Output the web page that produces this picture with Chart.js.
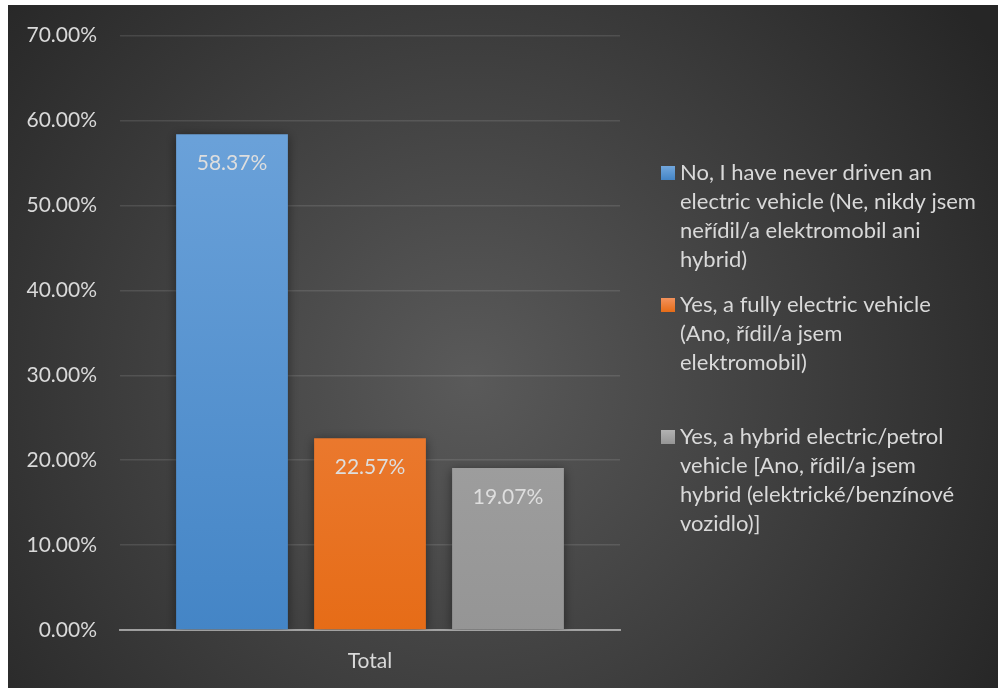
<!DOCTYPE html>
<html>
<head>
<meta charset="utf-8">
<style>
  html, body { margin: 0; padding: 0; background: #fff; }
  #wrap { width: 998px; height: 688px; }
</style>
<script src="https://cdn.jsdelivr.net/npm/chart.js@4"></script>
</head>
<body>
<div id="wrap"><canvas id="evChart" width="998" height="688"></canvas></div>
<script>
const categories = ['Total'];
const seriesNames = [
  ['No, I have never driven an', 'electric vehicle (Ne, nikdy jsem', 'neřídil/a elektromobil ani', 'hybrid)'],
  ['Yes, a fully electric vehicle', '(Ano, řídil/a jsem', 'elektromobil)'],
  ['Yes, a hybrid electric/petrol', 'vehicle [Ano, řídil/a jsem', 'hybrid (elektrické/benzínové', 'vozidlo)]']
];
const neverDriven = [58.37];
const fullyElectric = [22.57];
const hybridPetrol = [19.07];
const yTicks = [0, 10, 20, 30, 40, 50, 60, 70];

const FONT = 'Lato, "Noto Sans", sans-serif';
const TEXT = '#d9d9d9';

// top / bottom colours of each bar fill
const barColors = [
  ['#72a7dd', '#4485c6'],
  ['#f3925c', '#e66c17'],
  ['#b2b2b2', '#959595']
];

function barGradient(i) {
  return (c) => {
    const area = c.chart.chartArea;
    if (!area) return barColors[i][1];
    const el = c.element;
    const top = el && el.y != null ? el.y : area.top;
    const g = c.chart.ctx.createLinearGradient(0, top, 0, area.bottom);
    g.addColorStop(0, barColors[i][0]);
    g.addColorStop(1, barColors[i][1]);
    return g;
  };
}

const backdrop = {
  id: 'backdrop',
  beforeDraw(chart) {
    const { ctx, width, height } = chart;
    ctx.save();
    ctx.fillStyle = '#ffffff';
    ctx.fillRect(0, 0, width, height);
    const g = ctx.createRadialGradient(470, 380, 0, 470, 380, 620);
    g.addColorStop(0, '#5a5a5a');
    g.addColorStop(1, '#262626');
    ctx.fillStyle = g;
    ctx.fillRect(8, 5, width - 8, height - 5);
    ctx.restore();
  }
};

// soft shadow behind bars
const barShadow = {
  id: 'barShadow',
  beforeDatasetsDraw(chart) {
    const ctx = chart.ctx;
    ctx.save();
    ctx.shadowColor = 'rgba(0,0,0,0.45)';
    ctx.shadowBlur = 10;
    ctx.shadowOffsetX = 0;
    ctx.shadowOffsetY = 2;
  },
  afterDatasetsDraw(chart) {
    chart.ctx.restore();
  }
};

const valueLabels = {
  id: 'valueLabels',
  afterDatasetsDraw(chart) {
    const ctx = chart.ctx;
    ctx.save();
    ctx.font = '21px ' + FONT;
    ctx.fillStyle = '#dedede';
    ctx.textAlign = 'center';
    ctx.textBaseline = 'middle';
    chart.data.datasets.forEach((ds, i) => {
      chart.getDatasetMeta(i).data.forEach((bar, j) => {
        ctx.fillText(ds.data[j].toFixed(2) + '%', bar.x, bar.y + 29);
      });
    });
    ctx.restore();
  }
};

// wrapped legend on the right
const sideLegend = {
  id: 'sideLegend',
  afterDraw(chart) {
    const ctx = chart.ctx;
    ctx.save();
    ctx.font = '22px ' + FONT;
    ctx.textBaseline = 'middle';
    ctx.textAlign = 'left';
    chart.data.datasets.forEach((ds, i) => {
      const y0 = 173 + i * 132;
      const g = ctx.createLinearGradient(0, y0 - 7, 0, y0 + 7);
      g.addColorStop(0, barColors[i][0]);
      g.addColorStop(1, barColors[i][1]);
      ctx.fillStyle = g;
      ctx.fillRect(661, y0 - 7, 14, 14);
      ctx.fillStyle = TEXT;
      ds.label.forEach((line, k) => ctx.fillText(line, 680, y0 + k * 29));
    });
    ctx.restore();
  }
};

const datasets = [neverDriven, fullyElectric, hybridPetrol].map((vals, i) => ({
  label: seriesNames[i],
  data: vals,
  backgroundColor: barGradient(i),
  borderWidth: 0,
  categoryPercentage: 0.828,
  barPercentage: 0.81
}));

new Chart(document.getElementById('evChart'), {
  type: 'bar',
  data: { labels: categories, datasets },
  plugins: [backdrop, barShadow, valueLabels, sideLegend],
  options: {
    responsive: false,
    animation: false,
    layout: { padding: { left: 8, top: 34, right: 378, bottom: 0 } },
    plugins: { legend: { display: false }, tooltip: { enabled: false } },
    scales: {
      x: {
        z: 1,
        grid: { display: false, drawTicks: false },
        border: { display: true, color: 'rgba(190,190,190,0.75)', width: 2 },
        ticks: { color: TEXT, font: { family: FONT, size: 21 }, padding: 19 },
        afterFit(s) { s.height = 58; }
      },
      y: {
        min: 0,
        max: 70,
        afterBuildTicks(s) { s.ticks = yTicks.map(v => ({ value: v })); },
        grid: { color: 'rgba(255,255,255,0.11)', lineWidth: 1.5, drawTicks: false },
        border: { display: false },
        ticks: {
          color: TEXT,
          font: { family: FONT, size: 21 },
          padding: 23,
          callback: v => v.toFixed(2) + '%'
        },
        afterFit(s) { s.width = 112; }
      }
    }
  }
});
</script>
</body>
</html>
